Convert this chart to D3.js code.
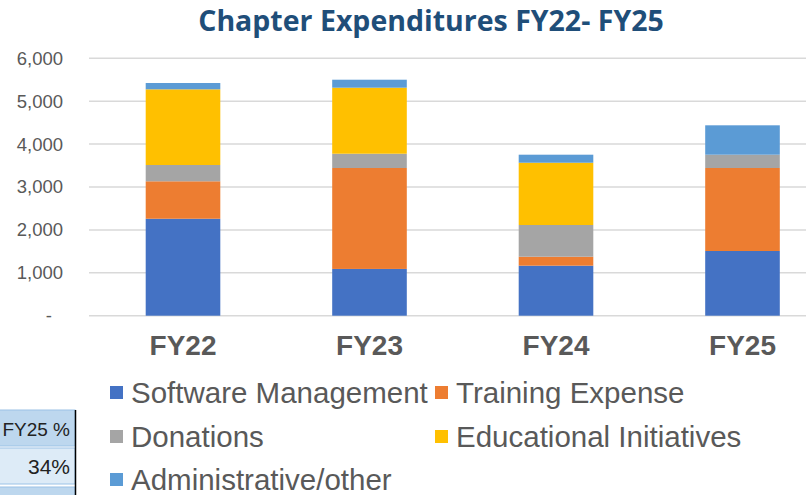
<!DOCTYPE html>
<html>
<head>
<meta charset="utf-8">
<script src="https://cdn.jsdelivr.net/npm/d3@7"></script>
<style>
    body { margin: 0; background: #fff; }
    svg { display: block; }
</style>
</head>
<body>
<div id="chart"></div>
<script>
const years = ["FY22", "FY23", "FY24", "FY25"];
const seriesNames = ["Software Management", "Training Expense", "Donations", "Educational Initiatives", "Administrative/other"];
const softwareManagement = [2260, 1090, 1166, 1508];
const trainingExpense = [873, 2353, 209, 1935];
const donations = [380, 333, 739, 310];
const educationalInitiatives = [1764, 1539, 1452, 0];
const administrativeOther = [147, 186, 187, 685];
const yTicks = [0, 1000, 2000, 3000, 4000, 5000, 6000];
const colors = ["#4472C4", "#ED7D31", "#A5A5A5", "#FFC000", "#5B9BD5"];

// side table fragment (cut off at the left edge of the screenshot)
const tableRows = ["FY25 %", "34%", ""];

const width = 811;
const height = 495;

const svg = d3.select("#chart")
              .append("svg")
              .attr("width", width)
              .attr("height", height);

// build rows for the stack
const rows = years.map((y, i) => ({
    year: y,
    "Software Management": softwareManagement[i],
    "Training Expense": trainingExpense[i],
    "Donations": donations[i],
    "Educational Initiatives": educationalInitiatives[i],
    "Administrative/other": administrativeOther[i]
}));

const stacked = d3.stack().keys(seriesNames)(rows);

const x = d3.scaleBand()
            .domain(years)
            .range([89.75, 835.75])
            .paddingInner(0.6)
            .paddingOuter(0.3);

const y = d3.scaleLinear()
            .domain([0, 6000])
            .range([315.7, 58.3]);

const color = d3.scaleOrdinal().domain(seriesNames).range(colors);

// gridlines
svg.append("g")
   .selectAll("line")
   .data(yTicks)
   .join("line")
   .attr("x1", 89)
   .attr("x2", 806)
   .attr("y1", d => y(d))
   .attr("y2", d => y(d))
   .attr("stroke", "#D9D9D9")
   .attr("stroke-width", 1.5);

// y axis labels
const yAxis = d3.axisLeft(y)
                .tickValues(yTicks)
                .tickSize(0)
                .tickPadding(0)
                .tickFormat(d => d === 0 ? "-" : d3.format(",")(d));

svg.append("g")
   .attr("transform", "translate(63,0)")
   .call(yAxis)
   .call(g => g.select(".domain").remove())
   .call(g => g.selectAll("text")
       .attr("font-family", "'Liberation Sans', Arial, sans-serif")
       .attr("font-size", 18.5)
       .attr("fill", "#595959")
       .attr("x", d => d === 0 ? -11 : 0));

// bars
svg.append("g")
   .selectAll("g")
   .data(stacked)
   .join("g")
   .attr("fill", d => color(d.key))
   .selectAll("rect")
   .data(d => d)
   .join("rect")
   .attr("x", d => x(d.data.year))
   .attr("width", x.bandwidth())
   .attr("y", d => y(d[1]))
   .attr("height", d => y(d[0]) - y(d[1]));

// x axis labels
const xAxis = d3.axisBottom(x).tickSize(0).tickPadding(0);
svg.append("g")
   .attr("transform", "translate(0,355)")
   .call(xAxis)
   .call(g => g.select(".domain").remove())
   .call(g => g.selectAll("text")
       .attr("dy", 0)
       .attr("font-family", "'Liberation Sans', Arial, sans-serif")
       .attr("font-weight", "bold")
       .attr("font-size", 28)
       .attr("fill", "#595959"));

// title
svg.append("text")
   .attr("x", 431)
   .attr("y", 31)
   .attr("text-anchor", "middle")
   .attr("font-family", "'Open Sans', sans-serif")
   .attr("font-weight", "bold")
   .attr("font-size", 28.5)
   .attr("fill", "#1F4E79")
   .text("Chapter Expenditures FY22- FY25");

// legend
const legendPos = [
    [110, 393], [435, 393],
    [110, 437], [435, 437],
    [110, 480]
];

const legend = svg.append("g")
                  .selectAll("g")
                  .data(seriesNames)
                  .join("g")
                  .attr("transform", (d, i) => `translate(${legendPos[i][0]},${legendPos[i][1]})`);

legend.append("rect")
      .attr("x", 0)
      .attr("y", -7)
      .attr("width", 13)
      .attr("height", 13)
      .attr("fill", d => color(d));

legend.append("text")
      .attr("x", 21)
      .attr("y", 0)
      .attr("dy", "0.35em")
      .attr("font-family", "'Liberation Sans', Arial, sans-serif")
      .attr("font-size", 29.5)
      .attr("fill", "#595959")
      .text(d => d);

// table fragment bottom left
const tableTop = [410, 448, 487];
const tableFill = ["#BDD7EE", "#DDEBF7", "#BDD7EE"];
const table = svg.append("g");

table.selectAll("rect")
     .data(tableRows)
     .join("rect")
     .attr("x", -5)
     .attr("y", (d, i) => tableTop[i])
     .attr("width", 80)
     .attr("height", 36)
     .attr("fill", (d, i) => tableFill[i])
     .attr("stroke", "#9BC2E6")
     .attr("stroke-width", 1);

table.selectAll("text")
     .data(tableRows)
     .join("text")
     .attr("x", 70)
     .attr("y", (d, i) => tableTop[i] + 26)
     .attr("text-anchor", "end")
     .attr("font-family", "'Liberation Sans', Arial, sans-serif")
     .attr("font-size", (d, i) => i === 0 ? 19 : 21)
     .attr("fill", "#222")
     .text(d => d);

table.append("line")
     .attr("x1", 75.5)
     .attr("x2", 75.5)
     .attr("y1", 410)
     .attr("y2", 495)
     .attr("stroke", "#000")
     .attr("stroke-width", 1.5);
</script>
</body>
</html>
